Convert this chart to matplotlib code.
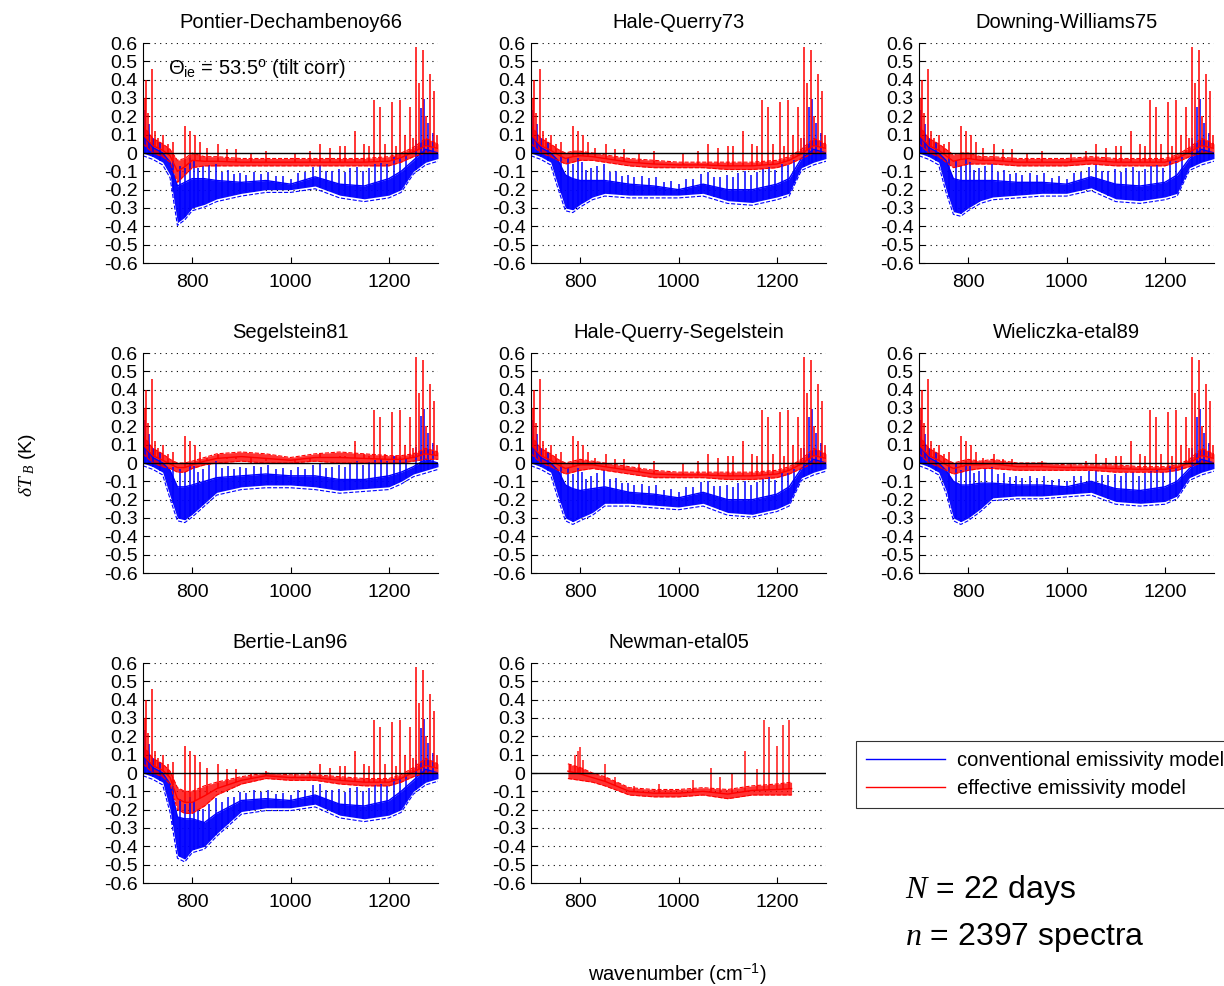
import numpy as np
import matplotlib
matplotlib.use("Agg")
import matplotlib.pyplot as plt

plt.rcParams["font.family"] = ["Liberation Sans", "DejaVu Sans"]
plt.rcParams["mathtext.fontset"] = "custom"
plt.rcParams["mathtext.rm"] = "Liberation Sans"
plt.rcParams["mathtext.it"] = "Liberation Serif:italic"

wn = [700, 720, 740, 755, 770, 785, 800, 825, 850, 900, 950, 1000, 1050, 1100, 1150, 1200, 1225, 1250, 1275, 1300]

# Pontier-Dechambenoy66
blue_lo_1 = [0.0, -0.02, -0.05, -0.12, -0.38, -0.35, -0.30, -0.28, -0.25, -0.22, -0.20, -0.20, -0.18, -0.23, -0.25, -0.23, -0.20, -0.10, -0.05, -0.03]
blue_hi_1 = [0.10, 0.03, 0.0, -0.05, -0.18, -0.16, -0.14, -0.14, -0.15, -0.16, -0.15, -0.17, -0.13, -0.17, -0.18, -0.14, -0.10, -0.04, 0.02, 0.0]
red_lo_1 = [0.05, 0.0, -0.02, -0.05, -0.16, -0.12, -0.08, -0.07, -0.07, -0.07, -0.07, -0.07, -0.07, -0.07, -0.07, -0.07, -0.05, -0.02, 0.0, 0.0]
red_hi_1 = [0.15, 0.08, 0.05, 0.02, -0.04, -0.03, 0.0, -0.02, -0.02, -0.03, -0.03, -0.03, -0.03, -0.03, -0.03, -0.02, 0.0, 0.03, 0.08, 0.05]

# Hale-Querry73
blue_lo_2 = [0.0, -0.02, -0.05, -0.18, -0.30, -0.31, -0.28, -0.24, -0.22, -0.23, -0.23, -0.23, -0.22, -0.26, -0.27, -0.24, -0.22, -0.08, -0.05, -0.03]
blue_hi_2 = [0.10, 0.03, 0.0, -0.04, -0.12, -0.14, -0.15, -0.15, -0.15, -0.17, -0.18, -0.20, -0.17, -0.20, -0.20, -0.17, -0.14, -0.03, 0.02, 0.0]
red_lo_2 = [0.05, 0.0, -0.02, -0.04, -0.06, -0.05, -0.04, -0.04, -0.05, -0.07, -0.08, -0.08, -0.08, -0.09, -0.09, -0.08, -0.06, -0.03, 0.0, 0.0]
red_hi_2 = [0.15, 0.08, 0.05, 0.02, 0.0, 0.01, 0.01, 0.0, -0.01, -0.03, -0.04, -0.05, -0.05, -0.05, -0.05, -0.04, -0.02, 0.02, 0.08, 0.05]

# Downing-Williams75
blue_lo_3 = [0.0, -0.02, -0.05, -0.20, -0.32, -0.33, -0.30, -0.26, -0.24, -0.23, -0.22, -0.22, -0.19, -0.25, -0.26, -0.24, -0.22, -0.08, -0.05, -0.03]
blue_hi_3 = [0.10, 0.03, 0.0, -0.04, -0.14, -0.15, -0.15, -0.15, -0.15, -0.16, -0.16, -0.17, -0.13, -0.17, -0.18, -0.16, -0.12, -0.03, 0.02, 0.0]
red_lo_3 = [0.05, 0.0, -0.02, -0.05, -0.08, -0.07, -0.06, -0.06, -0.06, -0.07, -0.07, -0.07, -0.06, -0.07, -0.07, -0.07, -0.05, -0.02, 0.0, 0.0]
red_hi_3 = [0.15, 0.08, 0.05, 0.02, -0.01, 0.0, 0.0, -0.02, -0.02, -0.03, -0.03, -0.03, -0.02, -0.03, -0.03, -0.03, -0.01, 0.03, 0.08, 0.05]

# Segelstein81
blue_lo_4 = [0.0, -0.02, -0.05, -0.18, -0.30, -0.31, -0.28, -0.22, -0.16, -0.13, -0.12, -0.12, -0.13, -0.15, -0.14, -0.13, -0.10, -0.06, -0.04, -0.02]
blue_hi_4 = [0.10, 0.03, 0.0, -0.04, -0.13, -0.13, -0.12, -0.10, -0.08, -0.07, -0.06, -0.07, -0.07, -0.09, -0.09, -0.07, -0.05, -0.02, 0.02, 0.0]
red_lo_4 = [0.05, 0.0, -0.02, -0.03, -0.05, -0.05, -0.03, -0.01, 0.0, 0.01, 0.0, 0.0, 0.01, 0.0, 0.0, 0.0, 0.0, 0.01, 0.02, 0.02]
red_hi_4 = [0.15, 0.08, 0.05, 0.02, 0.0, 0.0, 0.01, 0.03, 0.05, 0.06, 0.05, 0.03, 0.05, 0.06, 0.05, 0.04, 0.04, 0.05, 0.08, 0.06]

# Hale-Querry-Segelstein
blue_lo_5 = [0.0, -0.02, -0.05, -0.18, -0.30, -0.32, -0.30, -0.27, -0.22, -0.22, -0.23, -0.24, -0.22, -0.27, -0.28, -0.25, -0.22, -0.08, -0.05, -0.03]
blue_hi_5 = [0.10, 0.03, 0.0, -0.04, -0.12, -0.14, -0.15, -0.14, -0.13, -0.16, -0.17, -0.19, -0.16, -0.20, -0.20, -0.17, -0.13, -0.03, 0.02, 0.0]
red_lo_5 = [0.05, 0.0, -0.02, -0.04, -0.06, -0.05, -0.04, -0.03, -0.04, -0.06, -0.08, -0.08, -0.08, -0.09, -0.09, -0.08, -0.06, -0.03, 0.0, 0.0]
red_hi_5 = [0.15, 0.08, 0.05, 0.02, 0.0, 0.01, 0.02, 0.01, 0.0, -0.02, -0.04, -0.05, -0.05, -0.05, -0.05, -0.04, -0.02, 0.02, 0.08, 0.05]

# Wieliczka-etal89
blue_lo_6 = [0.0, -0.02, -0.05, -0.15, -0.30, -0.32, -0.30, -0.25, -0.19, -0.18, -0.18, -0.17, -0.16, -0.21, -0.22, -0.21, -0.18, -0.08, -0.05, -0.03]
blue_hi_6 = [0.10, 0.03, 0.0, -0.04, -0.10, -0.12, -0.12, -0.11, -0.11, -0.12, -0.12, -0.13, -0.10, -0.14, -0.15, -0.13, -0.10, -0.03, 0.02, 0.0]
red_lo_6 = [0.05, 0.0, -0.02, -0.04, -0.06, -0.05, -0.04, -0.03, -0.03, -0.04, -0.04, -0.04, -0.04, -0.05, -0.05, -0.05, -0.04, -0.02, 0.0, 0.0]
red_hi_6 = [0.15, 0.08, 0.05, 0.02, 0.0, 0.01, 0.02, 0.01, 0.02, 0.0, 0.0, -0.01, -0.01, -0.01, -0.02, -0.02, -0.01, 0.02, 0.08, 0.05]

# Bertie-Lan96
blue_lo_7 = [0.0, -0.02, -0.05, -0.20, -0.45, -0.47, -0.42, -0.40, -0.33, -0.21, -0.19, -0.19, -0.17, -0.23, -0.25, -0.23, -0.20, -0.10, -0.05, -0.03]
blue_hi_7 = [0.10, 0.03, 0.0, -0.06, -0.24, -0.25, -0.25, -0.27, -0.22, -0.15, -0.14, -0.15, -0.12, -0.17, -0.18, -0.15, -0.10, -0.04, 0.02, 0.0]
red_lo_7 = [0.05, 0.0, -0.02, -0.06, -0.20, -0.22, -0.22, -0.18, -0.12, -0.06, -0.03, -0.04, -0.04, -0.06, -0.07, -0.07, -0.05, -0.02, 0.0, 0.0]
red_hi_7 = [0.15, 0.08, 0.05, 0.01, -0.08, -0.10, -0.10, -0.07, -0.05, -0.02, 0.0, -0.01, -0.01, -0.02, -0.03, -0.03, -0.01, 0.03, 0.08, 0.05]

# Newman-etal05 (effective model only, shorter range)
newman_wn = [775, 800, 825, 850, 900, 950, 1000, 1050, 1100, 1150, 1200, 1230]
red_lo_8 = [-0.03, -0.04, -0.05, -0.07, -0.12, -0.13, -0.13, -0.12, -0.14, -0.12, -0.12, -0.12]
red_hi_8 = [0.05, 0.03, 0.0, -0.02, -0.08, -0.09, -0.09, -0.08, -0.09, -0.07, -0.06, -0.05]
newman_spike_x = [780, 790, 795, 800, 805, 850, 870, 910, 960, 1030, 1067, 1085, 1108, 1135, 1160, 1173, 1185, 1200, 1212, 1225]
newman_spike_top = [0.05, 0.10, 0.12, 0.14, 0.07, 0.05, -0.02, -0.07, -0.06, -0.04, 0.03, -0.02, 0.0, 0.12, 0.02, 0.29, 0.25, 0.15, 0.26, 0.29]

# spectral line spikes (same sky lines in every panel)
red_spike_x = [704, 706, 711, 719, 724, 730, 741, 751, 760, 785, 795, 805, 815, 830, 852, 870, 889, 920, 950, 1010,
               1040, 1061, 1080, 1101, 1110, 1132, 1150, 1160, 1169, 1182, 1192, 1206, 1215, 1223, 1233, 1243, 1250, 1256,
               1261, 1270, 1276, 1283, 1292, 1297]
red_spike_top = [0.30, 0.40, 0.22, 0.46, 0.12, 0.08, 0.10, 0.05, 0.06, 0.15, 0.12, 0.10, 0.06, 0.03, 0.05, 0.02, 0.02, 0.00, 0.01, 0.00,
                 0.01, 0.05, 0.03, 0.04, 0.04, 0.12, 0.05, 0.04, 0.29, 0.25, 0.05, 0.28, 0.04, 0.29, 0.10, 0.25, 0.08, 0.58,
                 0.38, 0.56, 0.20, 0.43, 0.34, 0.10]
blue_spike_x = [705, 712, 720, 735, 760, 775, 785, 795, 803, 812, 822, 835, 848, 860, 872, 885, 897, 910, 925, 940,
                955, 970, 985, 1000, 1015, 1030, 1045, 1060, 1072, 1085, 1098, 1110, 1122, 1135, 1148, 1160, 1172, 1185,
                1197, 1210, 1222, 1235, 1255, 1265, 1272, 1280, 1290]
blue_spike_h = [0.15, 0.10, 0.05, 0.05, 0.05, 0.10, 0.08, 0.12, 0.10, 0.06, 0.07, 0.08, 0.09, 0.05, 0.06, 0.04, 0.05, 0.04, 0.05, 0.04,
                0.05, 0.03, 0.04, 0.03, 0.05, 0.04, 0.06, 0.07, 0.05, 0.06, 0.08, 0.07, 0.09, 0.10, 0.08, 0.09, 0.10, 0.10,
                0.08, 0.10, 0.08, 0.06, 0.10, 0.25, 0.28, 0.15, 0.10]

titles = ["Pontier-Dechambenoy66", "Hale-Querry73", "Downing-Williams75",
          "Segelstein81", "Hale-Querry-Segelstein", "Wieliczka-etal89",
          "Bertie-Lan96", "Newman-etal05"]
blue_lo = [blue_lo_1, blue_lo_2, blue_lo_3, blue_lo_4, blue_lo_5, blue_lo_6, blue_lo_7, None]
blue_hi = [blue_hi_1, blue_hi_2, blue_hi_3, blue_hi_4, blue_hi_5, blue_hi_6, blue_hi_7, None]
red_lo = [red_lo_1, red_lo_2, red_lo_3, red_lo_4, red_lo_5, red_lo_6, red_lo_7, red_lo_8]
red_hi = [red_hi_1, red_hi_2, red_hi_3, red_hi_4, red_hi_5, red_hi_6, red_hi_7, red_hi_8]

yticks = np.round(np.arange(-0.6, 0.61, 0.1), 1)

W, H = 1224, 986
fig = plt.figure(figsize=(W / 100, H / 100), dpi=100)

col_left = [143, 531, 919]
row_top = [43, 353, 663]
aw, ah = 295, 220

for i, title in enumerate(titles):
    r, c = divmod(i, 3)
    ax = fig.add_axes([col_left[c] / W, 1 - (row_top[r] + ah) / H, aw / W, ah / H])

    if blue_lo[i] is not None:
        x = np.array(wn)
        blo = np.array(blue_lo[i])
        bhi = np.array(blue_hi[i])
        ax.fill_between(x, blo, bhi, color="blue", alpha=0.95, lw=0)
        ax.plot(x, blo - 0.015, color="blue", lw=0.8, ls="--")
        ax.plot(x, bhi, color="blue", lw=1.0, label="conventional emissivity model")
        base = np.interp(blue_spike_x, x, blo)
        tops = np.interp(blue_spike_x, x, bhi) + np.array(blue_spike_h)
        ax.vlines(blue_spike_x, base, tops, color="blue", lw=1.1)

        rlo = np.array(red_lo[i])
        rhi = np.array(red_hi[i])
        ax.fill_between(x, rlo, rhi, color="red", alpha=0.8, lw=0)
        ax.plot(x, rlo, color="red", lw=0.8, ls="--")
        ax.plot(x, rhi, color="red", lw=0.8, ls="--")
        ax.plot(x, (rlo + rhi) / 2, color="red", lw=1.0, label="effective emissivity model")
        rbase = np.interp(red_spike_x, x, (rlo + rhi) / 2)
        ax.vlines(red_spike_x, rbase, red_spike_top, color="red", lw=1.3, alpha=0.85)
    else:
        x = np.array(newman_wn)
        rlo = np.array(red_lo[i])
        rhi = np.array(red_hi[i])
        ax.fill_between(x, rlo, rhi, color="red", alpha=0.8, lw=0)
        ax.plot(x, rlo, color="red", lw=0.8, ls="--")
        ax.plot(x, rhi, color="red", lw=0.8, ls="--")
        ax.plot(x, (rlo + rhi) / 2, color="red", lw=1.0)
        rbase = np.interp(newman_spike_x, x, (rlo + rhi) / 2)
        ax.vlines(newman_spike_x, rbase, newman_spike_top, color="red", lw=1.2, alpha=0.85)

    ax.axhline(0, color="black", lw=1.0, zorder=5)
    for yv in yticks:
        if abs(yv) > 1e-6 and yv > -0.55:
            ax.axhline(yv, color="black", lw=0.8, dashes=(1, 4), zorder=0)

    ax.set_xlim(700, 1300)
    ax.set_ylim(-0.6, 0.6)
    ax.set_xticks([800, 1000, 1200])
    ax.set_yticks(yticks)
    ax.set_yticklabels(["%g" % v if abs(v) > 1e-6 else "0" for v in yticks])
    ax.tick_params(direction="in", length=4, labelsize=14)
    ax.tick_params(axis="y", pad=4)
    ax.tick_params(axis="x", pad=8)
    ax.spines["top"].set_visible(False)
    ax.spines["right"].set_visible(False)
    ax.set_title(title, fontsize=14.5, pad=11)

    if i == 0:
        ax.text(750, 0.46, r"$\Theta_{\mathrm{ie}}$ = 53.5$^{\mathrm{o}}$ (tilt corr)", fontsize=14.5, va="center")
        handles, labels = ax.get_legend_handles_labels()

leg = fig.legend(handles, labels, loc="upper left", bbox_to_anchor=(856 / W, 1 - 741 / H),
                 fontsize=14.5, handlelength=3.9, handletextpad=0.6, frameon=True, fancybox=False,
                 borderaxespad=0, borderpad=0.5, labelspacing=0.45)
leg.get_frame().set_edgecolor("black")
leg.get_frame().set_linewidth(0.8)

fig.text(28 / W, 1 - 465 / H, r"$\delta T_{\ B}$ (K)", rotation=90, fontsize=14, ha="center", va="center")
fig.text(677 / W, 1 - 974 / H, r"wavenumber (cm$^{-1}$)", fontsize=14.5, ha="center", va="center")
fig.text(905 / W, 1 - 890 / H, r"$N$ = 22 days", fontsize=23, ha="left", va="center")
fig.text(905 / W, 1 - 937 / H, r"$n$ = 2397 spectra", fontsize=23, ha="left", va="center")

fig.savefig("out.png", dpi=100)
